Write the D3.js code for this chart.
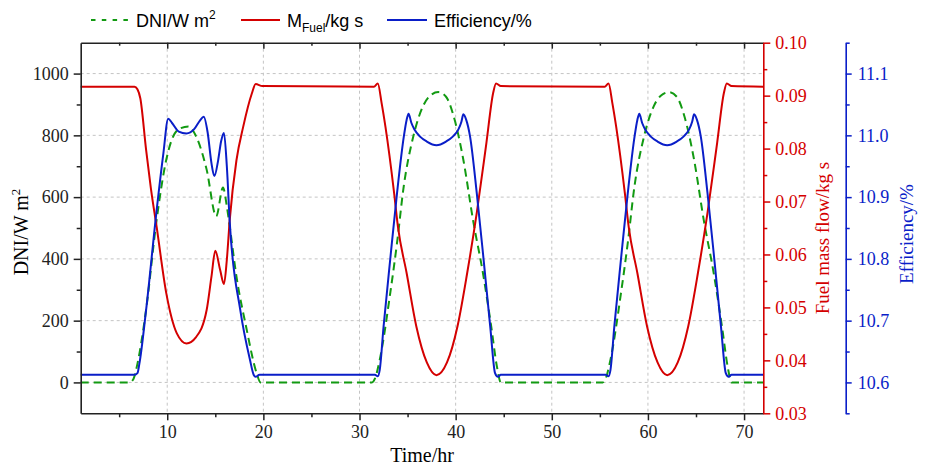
<!DOCTYPE html>
<html>
<head>
<meta charset="utf-8">
<script src="https://cdn.jsdelivr.net/npm/d3@7/dist/d3.min.js"></script>
<style>
  body { margin: 0; background: #fff; }
</style>
</head>
<body>
<svg id="chart" width="925" height="467"></svg>
<script>
// Values (time in hr)
const dniTime = [1, 6.1, 6.5, 6.9, 7.8, 8.9, 9.9, 11.1, 12.2, 13.0, 14.1, 15.1, 15.8, 16.2, 16.5, 17.2, 18.2, 19.3, 19.7,
  31.3, 31.6, 32.1, 33.2, 33.9, 34.6, 35.6, 36.6, 37.4, 38.2, 39.0, 39.8, 40.8, 41.8, 42.9, 43.7, 44.3, 44.7,
  55.3, 55.6, 56.1, 57.2, 57.9, 58.6, 59.6, 60.6, 61.4, 62.2, 63.0, 63.8, 64.8, 65.8, 66.9, 67.7, 68.3, 68.7, 72];
const dniValues = [0, 0, 12, 60, 235, 527, 721, 818, 829, 797, 689, 538, 631, 570, 505, 343, 181, 30, 0,
  0, 12, 73, 290, 451, 635, 797, 894, 930, 940, 925, 861, 721, 527, 343, 181, 50, 0,
  0, 12, 73, 290, 451, 635, 797, 894, 930, 940, 925, 861, 721, 527, 343, 181, 50, 0, 0];

const fuelTime = [1, 6.6, 6.9, 7.2, 7.8, 8.3, 8.9, 9.9, 11.0, 12.0, 13.0, 14.1, 14.6, 15.0, 15.5, 15.9, 16.2, 16.5, 17.2, 17.9, 18.8, 19.2, 19.9,
  31.5, 31.9, 32.3, 32.7, 33.6, 34.0, 34.9, 35.9, 37.0, 38.0, 39.1, 40.2, 41.2, 42.2, 43.2, 43.9, 44.2, 44.7,
  55.5, 55.9, 56.3, 56.7, 57.6, 58.0, 58.9, 59.9, 61.0, 62.0, 63.1, 64.2, 65.2, 66.2, 67.2, 67.9, 68.2, 68.7, 72];
const fuelValues = [0.0917, 0.0917, 0.0912, 0.0895, 0.0798, 0.0725, 0.0652, 0.0527, 0.0451, 0.0432, 0.0444, 0.0495, 0.0558, 0.0607, 0.0571, 0.0544, 0.0590, 0.0665, 0.0778, 0.0841, 0.0904, 0.0922, 0.0918,
  0.0917, 0.0923, 0.0886, 0.0841, 0.0716, 0.0652, 0.0565, 0.0465, 0.0396, 0.0372, 0.0396, 0.0465, 0.0565, 0.0679, 0.0811, 0.0905, 0.0923, 0.0918,
  0.0917, 0.0923, 0.0886, 0.0841, 0.0716, 0.0652, 0.0565, 0.0465, 0.0396, 0.0372, 0.0396, 0.0465, 0.0565, 0.0679, 0.0811, 0.0905, 0.0923, 0.0918, 0.0917];

const effTime = [1, 6.6, 6.9, 7.1, 7.8, 8.9, 9.6, 10.1, 10.5, 11.2, 12.0, 12.8, 13.4, 13.8, 14.2, 14.6, 14.9, 15.3, 15.6, 15.9, 16.2, 16.5, 17.6, 18.6, 19.0, 19.2, 19.6,
  31.6, 31.9, 32.1, 32.5, 33.2, 33.9, 34.6, 34.9, 35.1, 35.4, 35.7, 36.3, 37.0, 38.0, 39.0, 39.7, 40.3, 40.6, 40.8, 41.1, 41.5, 42.2, 42.9, 43.6, 44.1, 44.4, 44.7,
  55.6, 55.9, 56.1, 56.5, 57.2, 57.9, 58.6, 58.9, 59.1, 59.4, 59.7, 60.3, 61.0, 62.0, 63.0, 63.7, 64.3, 64.6, 64.8, 65.1, 65.5, 66.2, 66.9, 67.6, 68.1, 68.4, 68.7, 72];
const effValues = [10.6125, 10.6125, 10.615, 10.63, 10.717, 10.879, 10.971, 11.027, 11.020, 11.006, 11.003, 11.010, 11.024, 11.030, 11.005, 10.955, 10.934, 10.960, 10.990, 11.004, 10.950, 10.860, 10.717, 10.637, 10.612, 10.609, 10.6125,
  10.6125, 10.610, 10.620, 10.690, 10.800, 10.906, 10.997, 11.025, 11.035, 11.020, 11.010, 10.998, 10.990, 10.984, 10.990, 10.998, 11.010, 11.022, 11.034, 11.025, 10.998, 10.906, 10.800, 10.690, 10.615, 10.609, 10.6125,
  10.6125, 10.610, 10.620, 10.690, 10.800, 10.906, 10.997, 11.025, 11.035, 11.020, 11.010, 10.998, 10.990, 10.984, 10.990, 10.998, 11.010, 11.022, 11.034, 11.025, 10.998, 10.906, 10.800, 10.690, 10.615, 10.609, 10.6125, 10.6125];

const timeTicks = [10, 20, 30, 40, 50, 60, 70];
const timeMinorTicks = [5, 15, 25, 35, 45, 55, 65];
const dniTicks = [0, 200, 400, 600, 800, 1000];
const dniMinorTicks = [100, 300, 500, 700, 900];
const fuelTicks = [0.03, 0.04, 0.05, 0.06, 0.07, 0.08, 0.09, 0.10];
const fuelMinorTicks = [0.035, 0.045, 0.055, 0.065, 0.075, 0.085, 0.095];
const effTicks = [10.6, 10.7, 10.8, 10.9, 11.0, 11.1];
const effMinorTicks = [10.55, 10.65, 10.75, 10.85, 10.95, 11.05, 11.15];

const RED = '#d40000';
const BLUE = '#0a1ec8';
const GREEN = '#129a12';
const AXIS = '#222';
const serif = '"Liberation Serif", "Times New Roman", serif';
const sans = '"Liberation Sans", Arial, sans-serif';

const plotLeft = 80.7, plotRight = 763.3, plotTop = 42.7, plotBottom = 413.3;
const effAxisX = 845.7;

const svg = d3.select('#chart');

const x = d3.scaleLinear().domain([1, 72]).range([plotLeft, plotRight]);
const yDni = d3.scaleLinear().domain([-100, 1100]).range([plotBottom, plotTop]);
const yFuel = d3.scaleLinear().domain([0.03, 0.10]).range([plotBottom, plotTop]);
const yEff = d3.scaleLinear().domain([10.55, 11.15]).range([plotBottom, plotTop]);

// Grid
const grid = svg.append('g').attr('class', 'grid')
  .attr('stroke', '#c4c4c4').attr('stroke-width', 1).attr('stroke-dasharray', '3,3');
grid.selectAll('line.gx').data(timeTicks).join('line')
  .attr('class', 'gx')
  .attr('x1', d => x(d)).attr('x2', d => x(d))
  .attr('y1', plotTop).attr('y2', plotBottom);
grid.selectAll('line.gy').data(dniTicks).join('line')
  .attr('class', 'gy')
  .attr('x1', plotLeft).attr('x2', plotRight)
  .attr('y1', d => yDni(d)).attr('y2', d => yDni(d));

// Lines
const makeLine = (xs, ys, scaleY) => d3.line()
  .x((d, i) => x(xs[i]))
  .y(d => scaleY(d))
  .curve(d3.curveMonotoneX)(ys);

const plot = svg.append('g').attr('fill', 'none').attr('stroke-width', 2);
plot.append('path')
  .attr('d', makeLine(dniTime, dniValues, yDni))
  .attr('stroke', GREEN)
  .attr('stroke-dasharray', '8,5');
plot.append('path')
  .attr('d', makeLine(fuelTime, fuelValues, yFuel))
  .attr('stroke', RED);
plot.append('path')
  .attr('d', makeLine(effTime, effValues, yEff))
  .attr('stroke', BLUE);

// Axes
const styleAxis = (g, color) => {
  g.select('.domain').attr('stroke', color).attr('stroke-width', 1.6);
  g.selectAll('.tick line').attr('stroke', color).attr('stroke-width', 1.5);
  g.selectAll('.tick text')
    .attr('fill', color)
    .style('font-family', serif)
    .style('font-size', '18px');
};

const addAxis = (axis, minorAxis, transform, color) => {
  const g = svg.append('g').attr('transform', transform).call(axis);
  const gm = svg.append('g').attr('transform', transform).call(minorAxis);
  gm.select('.domain').remove();
  styleAxis(g, color);
  styleAxis(gm, color);
  return g;
};

// bottom
addAxis(
  d3.axisBottom(x).tickValues(timeTicks).tickSize(7).tickSizeOuter(0).tickPadding(5).tickFormat(d3.format('d')),
  d3.axisBottom(x).tickValues(timeMinorTicks).tickSize(4).tickFormat(''),
  `translate(0,${plotBottom})`, AXIS);
// top (mirror, inward ticks)
addAxis(
  d3.axisBottom(x).tickValues(timeTicks).tickSize(6).tickSizeOuter(0).tickFormat(''),
  d3.axisBottom(x).tickValues(timeMinorTicks).tickSize(3).tickFormat(''),
  `translate(0,${plotTop})`, AXIS);
// left
addAxis(
  d3.axisLeft(yDni).tickValues(dniTicks).tickSize(7).tickSizeOuter(0).tickPadding(5).tickFormat(d3.format('d')),
  d3.axisLeft(yDni).tickValues(dniMinorTicks).tickSize(4).tickFormat(''),
  `translate(${plotLeft},0)`, AXIS);
// right red
addAxis(
  d3.axisRight(yFuel).tickValues(fuelTicks).tickSize(7).tickSizeOuter(0).tickPadding(5).tickFormat(d3.format('.2f')),
  d3.axisRight(yFuel).tickValues(fuelMinorTicks).tickSize(4).tickFormat(''),
  `translate(${plotRight},0)`, RED);
// right blue
addAxis(
  d3.axisRight(yEff).tickValues(effTicks).tickSize(6).tickSizeOuter(0).tickPadding(6).tickFormat(d3.format('.1f')),
  d3.axisRight(yEff).tickValues(effMinorTicks).tickSize(4).tickFormat(''),
  `translate(${effAxisX},0)`, BLUE);

// Axis titles
svg.append('text')
  .attr('x', (plotLeft + plotRight) / 2).attr('y', 462)
  .attr('text-anchor', 'middle')
  .attr('font-family', serif).attr('font-size', 20)
  .text('Time/hr');

const dniTitle = svg.append('text')
  .attr('transform', `translate(28,${(plotTop + plotBottom) / 2 + 4}) rotate(-90)`)
  .attr('text-anchor', 'middle')
  .attr('font-family', serif).attr('font-size', 20);
dniTitle.append('tspan').text('DNI/W m');
dniTitle.append('tspan').attr('font-size', 13).attr('dy', -8).text('2');

svg.append('text')
  .attr('transform', `translate(829,${(plotTop + plotBottom) / 2 + 10}) rotate(-90)`)
  .attr('text-anchor', 'middle')
  .attr('font-family', serif).attr('font-size', 19)
  .attr('fill', RED)
  .text('Fuel mass flow/kg s');

svg.append('text')
  .attr('transform', `translate(913,${(plotTop + plotBottom) / 2 + 6}) rotate(-90)`)
  .attr('text-anchor', 'middle')
  .attr('font-family', serif).attr('font-size', 19)
  .attr('fill', BLUE)
  .text('Efficiency/%');

// Legend
const legend = svg.append('g').attr('font-family', sans).attr('font-size', 18);
const legendY = 20;

legend.append('line')
  .attr('x1', 91).attr('x2', 128).attr('y1', legendY).attr('y2', legendY)
  .attr('stroke', GREEN).attr('stroke-width', 2).attr('stroke-dasharray', '4.5,6.3');
const t1 = legend.append('text').attr('x', 136).attr('y', 27);
t1.append('tspan').text('DNI/W m');
t1.append('tspan').attr('font-size', 12).attr('dy', -8).text('2');

legend.append('line')
  .attr('x1', 241).attr('x2', 280).attr('y1', legendY).attr('y2', legendY)
  .attr('stroke', RED).attr('stroke-width', 2);
const t2 = legend.append('text').attr('x', 287).attr('y', 27);
t2.append('tspan').text('M');
t2.append('tspan').attr('font-size', 12).attr('dy', 5).text('Fuel');
t2.append('tspan').attr('dy', -5).text('/kg s');

legend.append('line')
  .attr('x1', 387).attr('x2', 427).attr('y1', legendY).attr('y2', legendY)
  .attr('stroke', BLUE).attr('stroke-width', 2);
legend.append('text').attr('x', 434).attr('y', 27).text('Efficiency/%');
</script>
</body>
</html>
